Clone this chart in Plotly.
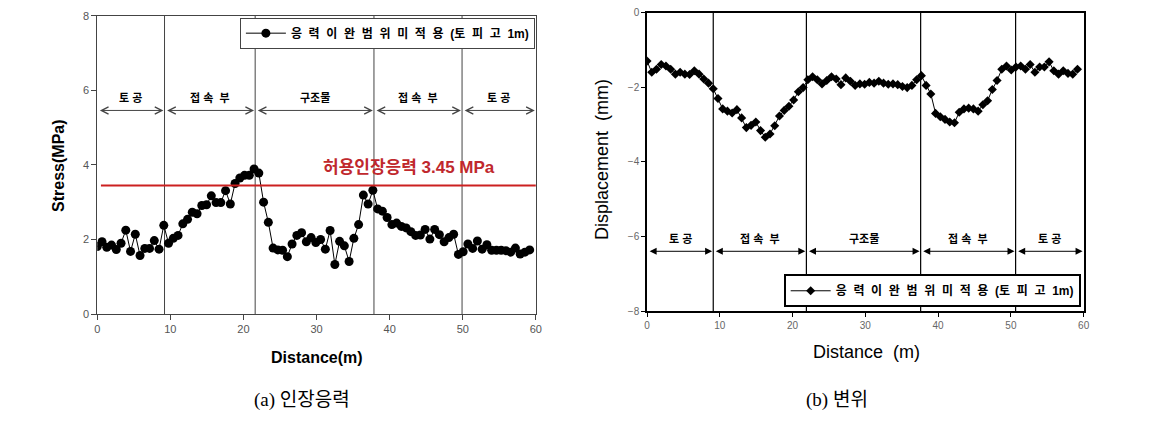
import plotly.graph_objects as go

# ---------------- data ----------------
distance = [0.0, 0.65, 1.3, 1.95, 2.6, 3.25, 3.9, 4.55, 5.2, 5.85, 6.5, 7.15, 7.8, 8.45, 9.1,
            9.75, 10.4, 11.05, 11.7, 12.35, 13.0, 13.65, 14.3, 14.95, 15.6, 16.25, 16.9, 17.55,
            18.2, 18.85, 19.5, 20.15, 20.8, 21.45, 22.1, 22.75, 23.4, 24.05, 24.7, 25.35, 26.0,
            26.65, 27.3, 27.95, 28.6, 29.25, 29.9, 30.55, 31.2, 31.85, 32.5, 33.15, 33.8, 34.45,
            35.1, 35.75, 36.4, 37.05, 37.7, 38.35, 39.0, 39.65, 40.3, 40.95, 41.6, 42.25, 42.9,
            43.55, 44.2, 44.85, 45.5, 46.15, 46.8, 47.45, 48.1, 48.75, 49.4, 50.05, 50.7, 51.35,
            52.0, 52.65, 53.3, 53.95, 54.6, 55.25, 55.9, 56.55, 57.2, 57.85, 58.5, 59.15]

stress = [1.81, 1.94, 1.79, 1.85, 1.73, 1.90, 2.25, 1.68, 2.14, 1.57, 1.76, 1.76, 1.97, 1.74,
          2.38, 1.90, 2.03, 2.11, 2.42, 2.54, 2.73, 2.69, 2.91, 2.93, 3.17, 2.99, 2.99, 3.31,
          2.95, 3.50, 3.65, 3.72, 3.72, 3.89, 3.78, 3.00, 2.46, 1.77, 1.72, 1.71, 1.54, 1.88,
          2.11, 2.18, 1.94, 2.05, 1.92, 2.00, 1.74, 2.24, 1.33, 1.95, 1.83, 1.41, 2.03, 2.40,
          3.19, 2.95, 3.32, 2.82, 2.76, 2.59, 2.40, 2.44, 2.35, 2.31, 2.21, 2.11, 2.12, 2.27,
          2.01, 2.27, 2.13, 1.94, 2.05, 2.14, 1.60, 1.67, 1.88, 1.76, 1.96, 1.74, 1.86, 1.71,
          1.71, 1.71, 1.70, 1.66, 1.77, 1.61, 1.66, 1.72]

displacement = [-1.30, -1.60, -1.52, -1.39, -1.43, -1.52, -1.65, -1.60, -1.65, -1.66, -1.56,
                -1.65, -1.78, -1.89, -2.04, -2.30, -2.58, -2.64, -2.69, -2.60, -2.82, -3.08,
                -3.02, -2.93, -3.16, -3.34, -3.25, -3.03, -2.77, -2.62, -2.51, -2.34, -2.12,
                -2.01, -1.80, -1.72, -1.80, -1.91, -1.82, -1.72, -1.78, -1.93, -1.75, -1.84,
                -1.95, -1.91, -1.92, -1.87, -1.89, -1.84, -1.89, -1.92, -1.91, -1.93, -1.98,
                -2.01, -1.95, -1.80, -1.69, -1.95, -2.18, -2.70, -2.79, -2.86, -2.93, -2.95,
                -2.67, -2.58, -2.56, -2.58, -2.64, -2.47, -2.36, -2.06, -1.82, -1.52, -1.43,
                -1.54, -1.46, -1.43, -1.52, -1.39, -1.60, -1.46, -1.46, -1.32, -1.56, -1.65,
                -1.56, -1.63, -1.65, -1.52]

section_names = ["토 공", "접 속  부", "구조물", "접 속  부", "토 공"]
bounds_a = [0, 9.2, 21.6, 37.85, 49.9, 60]
bounds_b = [0, 9.1, 21.9, 37.6, 50.65, 60]
allowable_stress = 3.45
allowable_label = "허용인장응력 3.45 MPa"
legend_label = "응  력  이  완  범  위  미  적  용  (토  피  고  1m)"
x_ticks = [0, 10, 20, 30, 40, 50, 60]
y_ticks_a = [0, 2, 4, 6, 8]
y_ticks_b = [0, -2, -4, -6, -8]

# ---------------- figure ----------------
W, H = 1174, 426
FONT = "Arial, Liberation Sans, Noto Sans CJK KR"
SERIF = "Liberation Serif, Noto Sans CJK KR"
fig = go.Figure()

fig.add_trace(go.Scatter(
    x=distance, y=stress, mode="lines+markers", name="<b>" + legend_label + "</b>",
    line=dict(color="black", width=1), marker=dict(symbol="circle", size=9, color="black"),
    xaxis="x", yaxis="y", legend="legend", showlegend=True))

fig.add_trace(go.Scatter(
    x=distance, y=displacement, mode="lines+markers", name="<b>" + legend_label + "</b>",
    line=dict(color="black", width=1), marker=dict(symbol="diamond", size=7, color="black"),
    xaxis="x2", yaxis="y2", legend="legend2", showlegend=True))

def px_x(p):
    return p / W

def px_y(p):
    return 1 - p / H

axis_common = dict(showgrid=False, zeroline=False, showline=True, mirror=True, ticks="outside")

fig.update_layout(
    width=W, height=H, margin=dict(l=0, r=0, t=0, b=0),
    paper_bgcolor="white", plot_bgcolor="white", showlegend=True,
    font=dict(family=FONT),
    xaxis=dict(domain=[px_x(95), px_x(537)], range=[0, 60], tickvals=x_ticks,
               linecolor="#444", linewidth=1, ticklen=5, tickcolor="#444",
               tickfont=dict(size=11, color="#555"), anchor="y", **axis_common),
    yaxis=dict(domain=[px_y(317), px_y(10)], range=[0, 8], tickvals=y_ticks_a,
               linecolor="#444", linewidth=1, ticklen=5, tickcolor="#444",
               tickfont=dict(size=11, color="#555"), anchor="x", **axis_common),
    xaxis2=dict(domain=[px_x(649), px_x(1089)], range=[0, 60], tickvals=x_ticks,
                linecolor="black", linewidth=1.5, ticklen=4, tickcolor="black",
                tickfont=dict(size=10, color="#666"), anchor="y2", **axis_common),
    yaxis2=dict(domain=[px_y(314.3), px_y(6.7)], range=[-8, 0], tickvals=y_ticks_b,
                linecolor="black", linewidth=1.5, ticklen=4, tickcolor="black",
                tickfont=dict(size=10, color="#666"), anchor="x2", **axis_common),
    legend=dict(x=px_x(536), xanchor="right", y=px_y(12), yanchor="top",
                bgcolor="white", bordercolor="#444", borderwidth=1,
                font=dict(size=12, color="black", family=FONT), itemwidth=40),
    legend2=dict(x=px_x(1086), xanchor="right", y=px_y(310), yanchor="bottom",
                 bgcolor="white", bordercolor="black", borderwidth=2,
                 font=dict(size=12, color="black", family=FONT), itemwidth=40),
)

shapes = []
annotations = []

# section boundaries and arrows
for bounds, xr, yr, arrow_y, label_y, color, head, lw in [
        (bounds_a, "x", "y", 5.46, 5.80, "#444", 5, 1),
        (bounds_b, "x2", "y2", -6.39, -6.05, "black", 2, 1.2)]:
    for b in bounds[1:-1]:
        shapes.append(dict(type="line", xref=xr, yref=yr + " domain", x0=b, x1=b, y0=0, y1=1,
                           line=dict(color=color, width=lw), layer="below"))
    for i in range(len(bounds) - 1):
        a0, a1 = bounds[i], bounds[i + 1]
        annotations.append(dict(xref=xr, yref=yr, axref=xr, ayref=yr, x=a1 - 0.15, y=arrow_y,
                                ax=a0 + 0.15, ay=arrow_y, text="", showarrow=True,
                                arrowhead=head, startarrowhead=head, arrowside="end+start",
                                arrowsize=1.4, startarrowsize=1.4, arrowwidth=1, arrowcolor=color))
        annotations.append(dict(xref=xr, yref=yr, x=(a0 + a1) / 2, y=label_y,
                                text="<b>" + section_names[i] + "</b>", showarrow=False,
                                font=dict(size=11, color="black", family=FONT)))

# allowable stress line
shapes.append(dict(type="line", xref="x", yref="y", x0=0.5, x1=60, y0=allowable_stress,
                   y1=allowable_stress, line=dict(color="#cc2020", width=2)))
annotations.append(dict(xref="x", yref="y", x=42.7, y=3.94, text="<b>" + allowable_label + "</b>",
                        showarrow=False, font=dict(size=17, color="#c0282d", family=FONT)))

# axis titles and captions
def label(x, y, text, size, family=FONT, angle=0):
    return dict(xref="paper", yref="paper", x=px_x(x), y=px_y(y), xanchor="center",
                yanchor="middle", text=text, textangle=angle, showarrow=False,
                font=dict(size=size, color="black", family=family))

annotations += [
    label(56, 165, "<b>Stress(MPa)</b>", 16, angle=-90),
    label(316, 362, "<b>Distance(m)</b>", 16),
    label(603, 158, "Displacement  (mm)", 18, angle=-90),
    label(870, 356, "Distance  (m)", 18),
    label(301, 405, "(a) 인장응력", 19, family=SERIF),
    label(840, 405, "(b) 변위", 19, family=SERIF),
]

fig.update_layout(shapes=shapes, annotations=annotations)
fig.write_html("out.html")
